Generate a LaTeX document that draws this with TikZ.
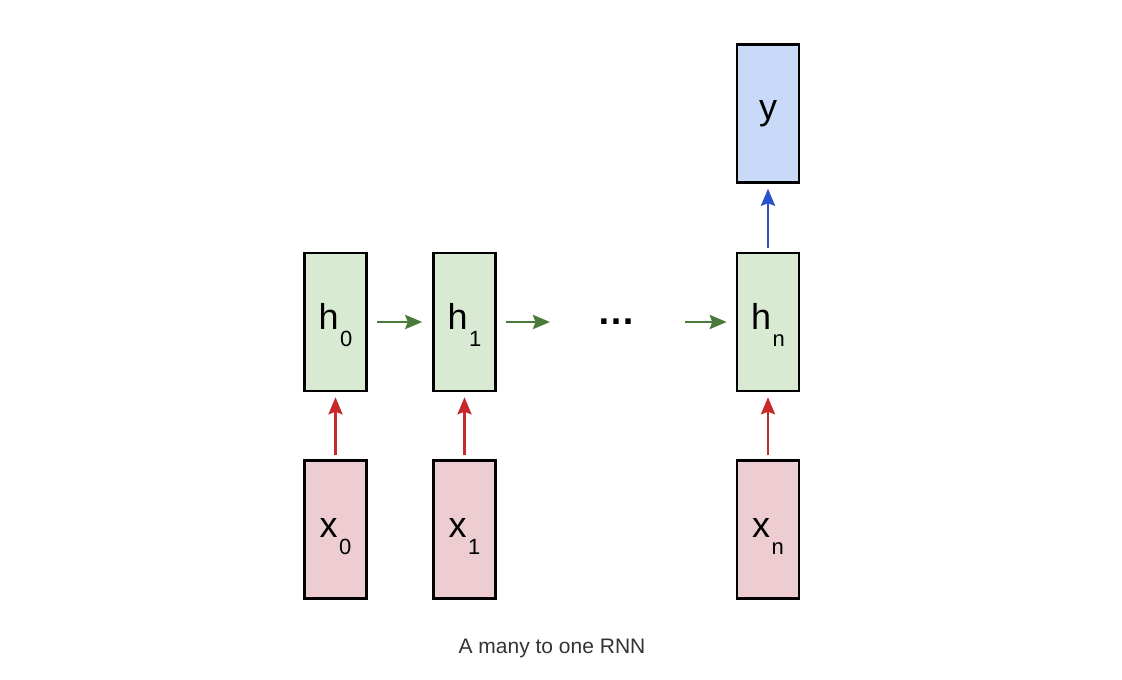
\documentclass[tikz,border=0pt]{standalone}
\usepackage{fontspec}
\setmainfont{Liberation Sans}
\usetikzlibrary{arrows.meta}
\definecolor{gfill}{HTML}{D9EAD3}
\definecolor{rfill}{HTML}{EDCDD1}
\definecolor{bfill}{HTML}{C9DAF8}
\definecolor{garrow}{HTML}{4A7A3A}
\definecolor{rarrow}{HTML}{C8282B}
\definecolor{barrow}{HTML}{2A52C9}
\definecolor{captext}{HTML}{333333}
\newcommand\sublbl[2]{#1\hspace{1.5pt}\raisebox{-17pt}{\fontsize{22}{22}\selectfont #2}}
\tikzset{
  cell/.style={draw=black, line width=2.5pt, minimum width=62pt, minimum height=138pt,
    inner sep=0pt, font=\fontsize{36}{40}\selectfont, text height=32pt, text depth=18pt},
  hcell/.style={cell, fill=gfill},
  xcell/.style={cell, fill=rfill, text height=33pt, text depth=17pt},
  ycell/.style={cell, fill=bfill, text height=28pt, text depth=16pt},
  arr/.style={line width=2.8pt, -{Stealth[length=17pt,width=14pt,inset=2.5pt]}},
}
\begin{document}
\begin{tikzpicture}[x=1pt,y=-1pt]
\useasboundingbox (0,0) rectangle (1122,680);
\node[hcell] (h0) at (335.5,322) {\sublbl{h}{0}};
\node[hcell] (h1) at (464.5,322) {\sublbl{h}{1}};
\node[hcell] (hn) at (768,322) {\sublbl{h}{n}};
\node[ycell] (y) at (768,113.5) {y};
\node[xcell] (x0) at (335.5,529.5) {\sublbl{x}{0}};
\node[xcell] (x1) at (464.5,529.5) {\sublbl{x}{1}};
\node[xcell] (xn) at (768,529.5) {\sublbl{x}{n}};
\node[font=\fontsize{38}{40}\selectfont\bfseries, inner sep=0pt] (dots) at (616,322) {…};
\coordinate (a1) at (550,322);
\coordinate (a2) at (685,322);
\draw[arr, garrow, shorten <=9pt, shorten >=10pt] (h0) -- (h1);
\draw[arr, garrow, shorten <=9pt] (h1) -- (a1);
\draw[arr, garrow, shorten >=9pt] (a2) -- (hn);
\draw[arr, rarrow, shorten <=4pt, shorten >=5pt] (x0) -- (h0);
\draw[arr, rarrow, shorten <=4pt, shorten >=5pt] (x1) -- (h1);
\draw[arr, rarrow, shorten <=4pt, shorten >=5pt] (xn) -- (hn);
\draw[arr, barrow, shorten <=4pt, shorten >=5pt] (hn) -- (y);
\node[anchor=base, text=captext, font=\fontsize{21}{24}\selectfont, inner sep=0pt] (cap) at (552,653) {A many to one RNN};
\end{tikzpicture}
\end{document}
